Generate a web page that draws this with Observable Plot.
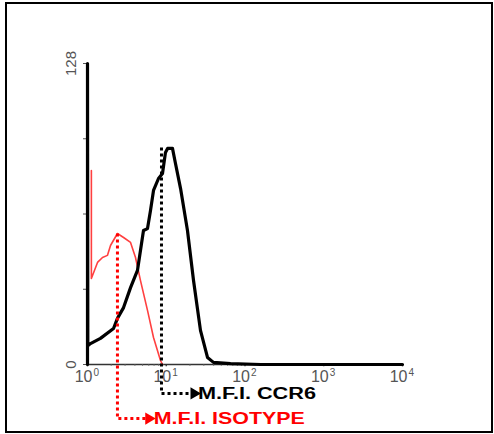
<!DOCTYPE html>
<html>
<head>
<meta charset="utf-8">
<script src="https://cdn.jsdelivr.net/npm/d3@7"></script>
<script src="https://cdn.jsdelivr.net/npm/@observablehq/plot@0.6"></script>
<style>
  html, body { margin: 0; padding: 0; background: #fff; }
  #wrap { position: relative; width: 494px; height: 434px; }
  #frame { position: absolute; left: 5px; top: 2px; width: 488px; height: 431px; box-sizing: border-box; border: 2px solid #000; }
  #chart { position: absolute; left: 0; top: 0; }
</style>
</head>
<body>
<div id="wrap"><div id="frame"></div><div id="chart"></div></div>
<script>
// CCR6 histogram (black)
const ccr6X = [1, 1, 1.01, 1.09, 1.46, 2.14, 2.40, 2.87, 3.52, 4.31, 5.14, 5.78, 6.31, 6.89, 7.97, 8.96, 9.78, 10.4, 12.0, 13.1, 15.2, 18.6, 22.2, 27.2, 33.4, 39.8, 65.5, 158, 10000];
const ccr6Y = [0, 128, 8.0, 8.9, 11.1, 15.3, 19.6, 24.2, 32.7, 40.0, 57.0, 57.8, 65.5, 74.0, 79.1, 81.2, 90.2, 91.9, 91.9, 85.5, 74.8, 57.0, 35.7, 14.5, 3.0, 0.9, 0.4, 0, 0];
// Isotype histogram (red)
const isoX = [1.12, 1.12, 1.34, 1.55, 1.79, 1.96, 2.40, 2.87, 3.52, 4.07, 4.71, 5.78, 6.89, 8.45, 8.96];
const isoY = [82.5, 36.6, 43.4, 45.5, 46.4, 50.6, 55.7, 54.0, 51.9, 45.5, 35.7, 23.0, 11.5, 1.7, 0];
// axis ticks
const xTicks = [1, 10, 100, 1000, 10000];
const xTickBase = ["10", "10", "10", "10", "10"];
const xTickExp = ["0", "1", "2", "3", "4"];
const yTicks = [0, 32, 64, 96, 128];
const yLabelTicks = [0, 128];
// M.F.I. values
const mfiIsotype = 2.40, mfiIsotypePeak = 55.7;
const mfiCcr6 = 8.7, mfiCcr6Peak = 92.3;
const labels = ["M.F.I. CCR6", "M.F.I. ISOTYPE"];

const ccr6 = ccr6X.map((x, i) => ({x, y: ccr6Y[i]}));
const iso = isoX.map((x, i) => ({x, y: isoY[i]}));
const minor = [];
for (let d = 0; d < 4; d++) for (let k = 2; k <= 9; k++) minor.push(k * 10 ** d);

const yCcr6Row = -12.3, yIsoRow = -23.0;
const ccr6ArrowEnd = 22.5, isoArrowEnd = 6.0;
const dotted = {strokeWidth: 3, strokeDasharray: "3,3", strokeLinecap: "butt", strokeLinejoin: "miter"};

const plot = Plot.plot({
  width: 494, height: 434,
  marginLeft: 87, marginRight: 92, marginTop: 63, marginBottom: 70,
  x: {type: "log", domain: [1, 10000], axis: null},
  y: {domain: [0, 128], axis: null},
  style: {fontFamily: "Liberation Sans, Arial, sans-serif", background: "transparent", overflow: "visible"},
  marks: [
    // axes
    Plot.ruleY([0], {x1: 1, x2: 10000, stroke: "#333", strokeWidth: 1.3}),
    Plot.ruleX(minor, {x: d => d, y1: 0, y2: -0.7, stroke: "#555", strokeWidth: 1}),
    Plot.ruleX(xTicks, {x: d => d, y1: 0, y2: -1, stroke: "#333", strokeWidth: 1.3}),
    Plot.text(xTicks, {x: d => d, y: 0, text: (d, i) => xTickBase[i], dx: 5, dy: 12, textAnchor: "end", fontSize: 16, fill: "#555"}),
    Plot.text(xTicks, {x: d => d, y: 0, text: (d, i) => xTickExp[i], dx: 6, dy: 8, textAnchor: "start", fontSize: 10, fill: "#555"}),
    Plot.ruleX([1], {y1: 0, y2: 128, stroke: "#333", strokeWidth: 1}),
    Plot.ruleY(yTicks, {y: d => d, x1: 0.89, x2: 1, stroke: "#555", strokeWidth: 1}),
    Plot.text(yLabelTicks, {x: 1, y: d => d, text: d => String(d), dx: -16, rotate: -90, fontSize: 15, fill: "#555"}),
    // histograms
    Plot.line(iso, {x: "x", y: "y", stroke: "#ff4040", strokeWidth: 1.6, curve: "linear"}),
    Plot.line(ccr6, {x: "x", y: "y", stroke: "#000", strokeWidth: 3.2, curve: "linear"}),
    // M.F.I. markers
    Plot.line([{x: mfiCcr6, y: mfiCcr6Peak}, {x: mfiCcr6, y: yCcr6Row}, {x: ccr6ArrowEnd, y: yCcr6Row}],
      {x: "x", y: "y", stroke: "#000", ...dotted}),
    Plot.dot([{x: ccr6ArrowEnd, y: yCcr6Row}], {x: "x", y: "y", symbol: "triangle", rotate: 90, r: 4.5, fill: "#000", stroke: "none"}),
    Plot.text([labels[0]], {x: ccr6ArrowEnd, y: yCcr6Row, text: d => d, dx: 4, textAnchor: "start", fontSize: 16, fontWeight: "bold", fill: "#000"}),
    Plot.line([{x: mfiIsotype, y: mfiIsotypePeak}, {x: mfiIsotype, y: yIsoRow}, {x: isoArrowEnd, y: yIsoRow}],
      {x: "x", y: "y", stroke: "#f00", ...dotted}),
    Plot.dot([{x: isoArrowEnd, y: yIsoRow}], {x: "x", y: "y", symbol: "triangle", rotate: 90, r: 4.5, fill: "#f00", stroke: "none"}),
    Plot.text([labels[1]], {x: isoArrowEnd, y: yIsoRow, text: d => d, dx: 5, textAnchor: "start", fontSize: 16.5, fontWeight: "bold", fill: "#f00"})
  ]
});
document.getElementById("chart").appendChild(plot);
// stretch annotation labels horizontally like the original
const widths = {"M.F.I. CCR6": 118, "M.F.I. ISOTYPE": 151};
plot.querySelectorAll("text").forEach(t => {
  const w = widths[t.textContent];
  if (w) { t.setAttribute("textLength", w); t.setAttribute("lengthAdjust", "spacingAndGlyphs"); }
});
</script>
</body>
</html>
